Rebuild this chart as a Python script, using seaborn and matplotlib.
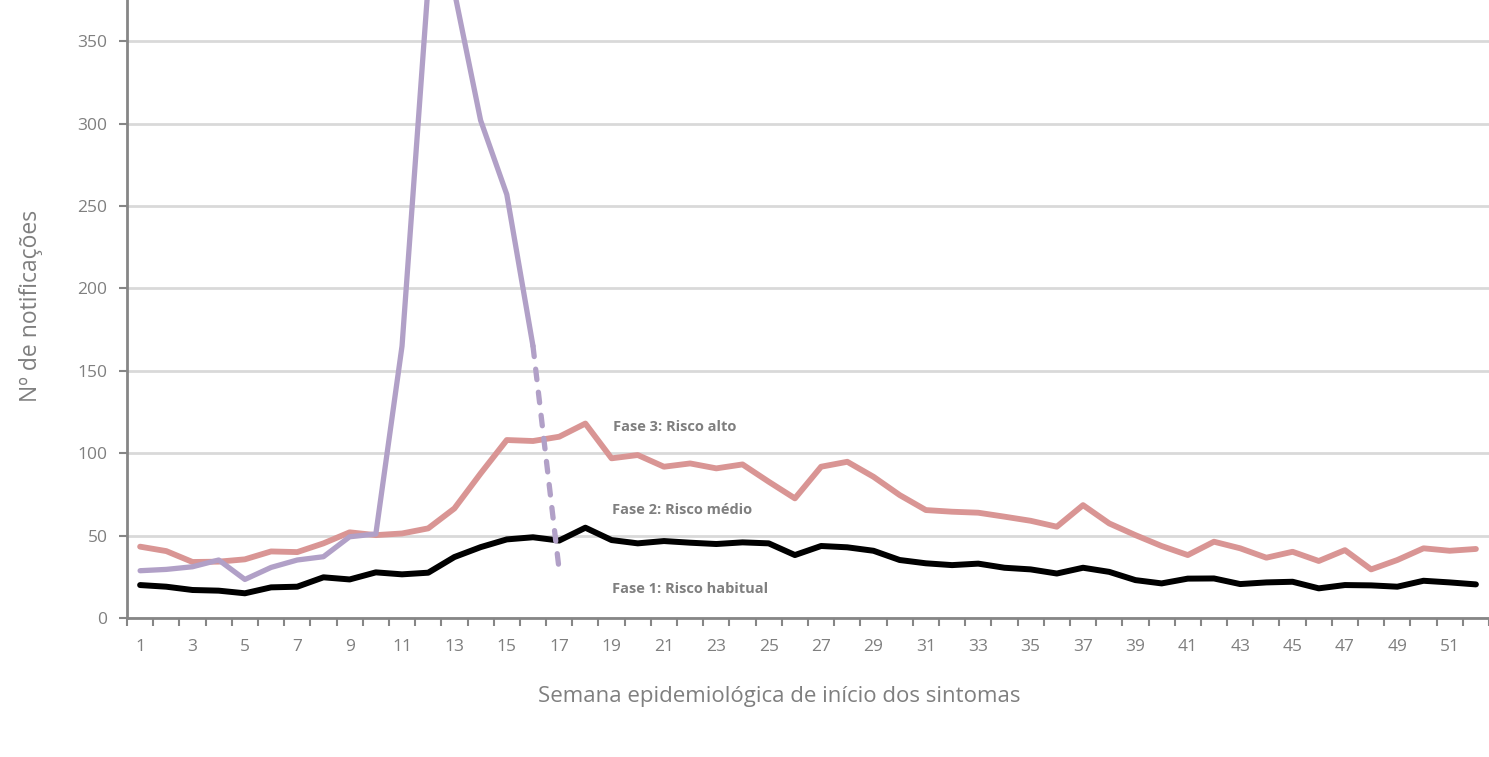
import matplotlib
matplotlib.use('Agg')
import matplotlib.pyplot as plt
import seaborn as sns
import pandas as pd
from matplotlib.ticker import MultipleLocator, FixedLocator

# semanas epidemiologicas
semanas = list(range(1, 53))

# limiar Fase 1 (risco habitual) - linha preta
fase1 = [20, 19, 17, 16.6, 15, 18.6, 19, 24.7, 23.4, 27.7, 26.5, 27.5, 37, 43,
         47.7, 49, 47, 54.8, 47.3, 45.3, 46.7, 45.7, 44.9, 45.9, 45.3, 38.2,
         43.7, 42.9, 40.8, 35.2, 33.2, 32.1, 33, 30.5, 29.5, 27, 30.5, 28, 23,
         21, 23.9, 24, 20.6, 21.6, 22, 18, 20, 19.8, 19, 22.6, 21.6, 20.4]

# limiar Fase 2 (risco medio) - linha rosa
fase2 = [43.3, 40.6, 34, 34.2, 35.6, 40.4, 40, 45.3, 52, 50.3, 51.3, 54.4, 66.5,
         87.7, 108, 107.4, 110, 118, 96.9, 98.9, 91.8, 93.8, 90.8, 93.2, 82.7,
         72.6, 91.8, 94.8, 85.7, 74.6, 65.5, 64.5, 63.9, 61.5, 59, 55.4, 68.5,
         57.4, 50.3, 43.7, 38.2, 46.3, 42.3, 36.6, 40.2, 34.6, 41.2, 29.5, 35.2,
         42.3, 40.8, 41.9]

# notificacoes do ano corrente - linha lilas (semana 17 ainda incompleta)
semanas_atual = list(range(1, 17))
casos_atual = [28.7, 29.5, 31.1, 35.2, 23.4, 30.7, 35.2, 37.2, 49.3, 51, 165,
               385, 380, 302, 257, 165]
semana_parcial = 17
casos_parcial = 29

cinza = '#7f7f7f'
rosa = '#d99594'
lilas = '#b1a0c7'

sns.set_style('white')
plt.rcParams['font.family'] = ['Open Sans', 'DejaVu Sans']

fig = plt.figure(figsize=(14.89, 7.57), dpi=100)
ax = fig.add_axes([0.0853, 0.1836, 0.9147, 0.8164])

df = pd.DataFrame({'semana': semanas, 'fase1': fase1, 'fase2': fase2})
df_atual = pd.DataFrame({'semana': semanas_atual, 'casos': casos_atual})
df_parcial = pd.DataFrame({'semana': [semanas_atual[-1], semana_parcial],
                           'casos': [casos_atual[-1], casos_parcial]})

# plot the data
sns.lineplot(data=df, x='semana', y='fase2', ax=ax, color=rosa, linewidth=4.2,
             solid_capstyle='round', solid_joinstyle='round')
sns.lineplot(data=df, x='semana', y='fase1', ax=ax, color='black', linewidth=4.3,
             solid_capstyle='round', solid_joinstyle='round')
sns.lineplot(data=df_atual, x='semana', y='casos', ax=ax, color=lilas, linewidth=3.8,
             solid_capstyle='round', solid_joinstyle='round')
sns.lineplot(data=df_parcial, x='semana', y='casos', ax=ax, color=lilas, linewidth=3.8,
             dashes=False, linestyle=(0, (2.0, 2.4)), dash_capstyle='round')

# labels of the phases
ax.text(19.05, 116, 'Fase 3: Risco alto', fontsize=10.5, fontweight='bold', color=cinza,
        va='center', ha='left')
ax.text(19.0, 65.5, 'Fase 2: Risco médio', fontsize=10.5, fontweight='bold', color=cinza,
        va='center', ha='left')
ax.text(19.0, 17.6, 'Fase 1: Risco habitual', fontsize=10.5, fontweight='bold', color=cinza,
        va='center', ha='left')

# axis limits
ax.set_xlim(0.5, 52.5)
ax.set_ylim(0, 375)

# ticks
ax.yaxis.set_major_locator(MultipleLocator(50))
ax.xaxis.set_major_locator(FixedLocator(list(range(1, 53, 2))))
ax.xaxis.set_minor_locator(FixedLocator([s - 0.5 for s in range(1, 54)]))
ax.tick_params(axis='x', which='major', length=0, pad=15, labelsize=12.5, labelcolor=cinza)
ax.tick_params(axis='x', which='minor', length=6, width=1.5, color='#868686',
               direction='out', bottom=True)
ax.tick_params(axis='y', which='major', length=6, width=1.5, color='#868686',
               direction='out', left=True, pad=8, labelsize=12.5, labelcolor=cinza)

# grid
ax.grid(axis='y', color='#d9d9d9', linewidth=2)
ax.grid(axis='x', visible=False)
ax.set_axisbelow(True)

# spines
for s in ['top', 'right']:
    ax.spines[s].set_visible(False)
for s in ['left', 'bottom']:
    ax.spines[s].set_color('#868686')
    ax.spines[s].set_linewidth(2)

ax.set_ylabel('Nº de notificações', fontsize=16.5, color=cinza)
ax.yaxis.set_label_coords(-0.062, 0.505)
ax.set_xlabel('Semana epidemiológica de início dos sintomas', fontsize=16, color=cinza)
ax.xaxis.set_label_coords(0.479, -0.11)

fig.savefig('out.png', dpi=100)
